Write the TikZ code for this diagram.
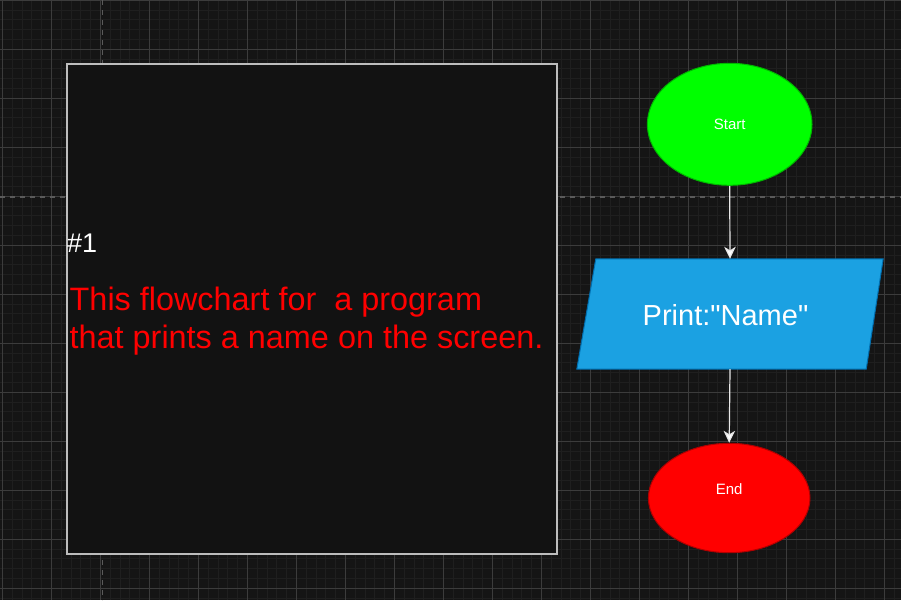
\documentclass[tikz,border=0pt]{standalone}
\usepackage{fontspec}
\setmainfont{Liberation Sans}
\newfontfamily\rawsans{Liberation Sans}
\usetikzlibrary{shapes.geometric,arrows.meta}
\definecolor{bg}{HTML}{151515}
\definecolor{minorc}{HTML}{1F1F1F}
\definecolor{majorc}{HTML}{3C3C3C}
\definecolor{dashc}{HTML}{5A5A5A}
\definecolor{boxfill}{HTML}{121212}
\definecolor{boxline}{HTML}{BDBDBD}
\definecolor{startfill}{HTML}{00FF00}
\definecolor{startline}{HTML}{00B800}
\definecolor{printfill}{HTML}{1BA1E2}
\definecolor{printline}{HTML}{006EAF}
\definecolor{endfill}{HTML}{FF0000}
\definecolor{endline}{HTML}{B20000}
\definecolor{connc}{HTML}{E8E8E8}
\tikzset{
  terminal/.style={ellipse, inner sep=0pt, line width=1pt, text=white, font=\fontsize{15}{18}\selectfont},
  conn/.style={draw=connc, line width=1.2pt, -{Stealth[length=12pt,width=11.5pt,inset=3.5pt,fill=white]}},
  redtext/.style={anchor=base west, inner sep=0pt, text=red, font=\fontsize{32.4}{38}\selectfont},
}
\begin{document}
\begin{tikzpicture}[x=1pt,y=-1pt]
\fill[bg] (0,0) rectangle (901,600);
\useasboundingbox (0,0) rectangle (901,600);
% minor grid
\foreach \i in {0,...,92} \draw[minorc, line width=1pt] ({2.5+9.8*\i},0) -- ({2.5+9.8*\i},600);
\foreach \i in {0,...,61} \draw[minorc, line width=1pt] (0,{0.3+9.8*\i}) -- (901,{0.3+9.8*\i});
% major grid
\foreach \i in {0,...,18} \draw[majorc, line width=1pt] ({2.5+49*\i},0) -- ({2.5+49*\i},600);
\foreach \i in {0,...,12} \draw[majorc, line width=1pt] (0,{0.3+49*\i}) -- (901,{0.3+49*\i});
% page break lines
\draw[dashc, line width=1.2pt, dash pattern=on 5pt off 5pt] (102.3,0) -- (102.3,600);
\draw[dashc, line width=1.2pt, dash pattern=on 5pt off 5pt] (0,197) -- (901,197);
% note box
\node[draw=boxline, fill=boxfill, line width=2pt, minimum width=490pt, minimum height=489.5pt, inner sep=0pt, anchor=north west] (note) at (66,63) {};
\node[anchor=base west, inner sep=0pt, text=white, font=\fontsize{27}{32}\selectfont] (num) at (67,252.7) {\#1};
\node[redtext] (line1) at (69.5,310.7) {This flowchart for\ \ a program};
\node[redtext] (line2) at (69.5,348.3) {that prints a name on the screen.};
% start
\node[terminal, draw=startline, fill=startfill, minimum width=164.6pt, minimum height=122pt, text height=11pt, text depth=1.6pt] (start) at (729.7,124.3) {Start};
% print
\node[inner sep=0pt, minimum width=306pt, minimum height=110pt] (print) at (730,314) {};
\filldraw[fill=printfill, draw=printline, line width=1pt] ([xshift=19pt]print.north west) -- (print.north east) -- ([xshift=-17pt]print.south east) -- (print.south west) -- cycle;
\node[inner sep=0pt, text=white, font=\rawsans\fontsize{29}{34}\selectfont, xshift=-4.5pt, yshift=-1.3pt] (printlabel) at (print.center) {Print:"Name"};
% end
\node[terminal, draw=endline, fill=endfill, minimum width=161.6pt, minimum height=109.4pt, text height=11pt, text depth=19pt] (end) at (729.2,498) {End};
% connectors
\draw[conn] (start.south) -- (print.north);
\draw[conn] (print.south) -- (end.north);
\end{tikzpicture}
\end{document}
